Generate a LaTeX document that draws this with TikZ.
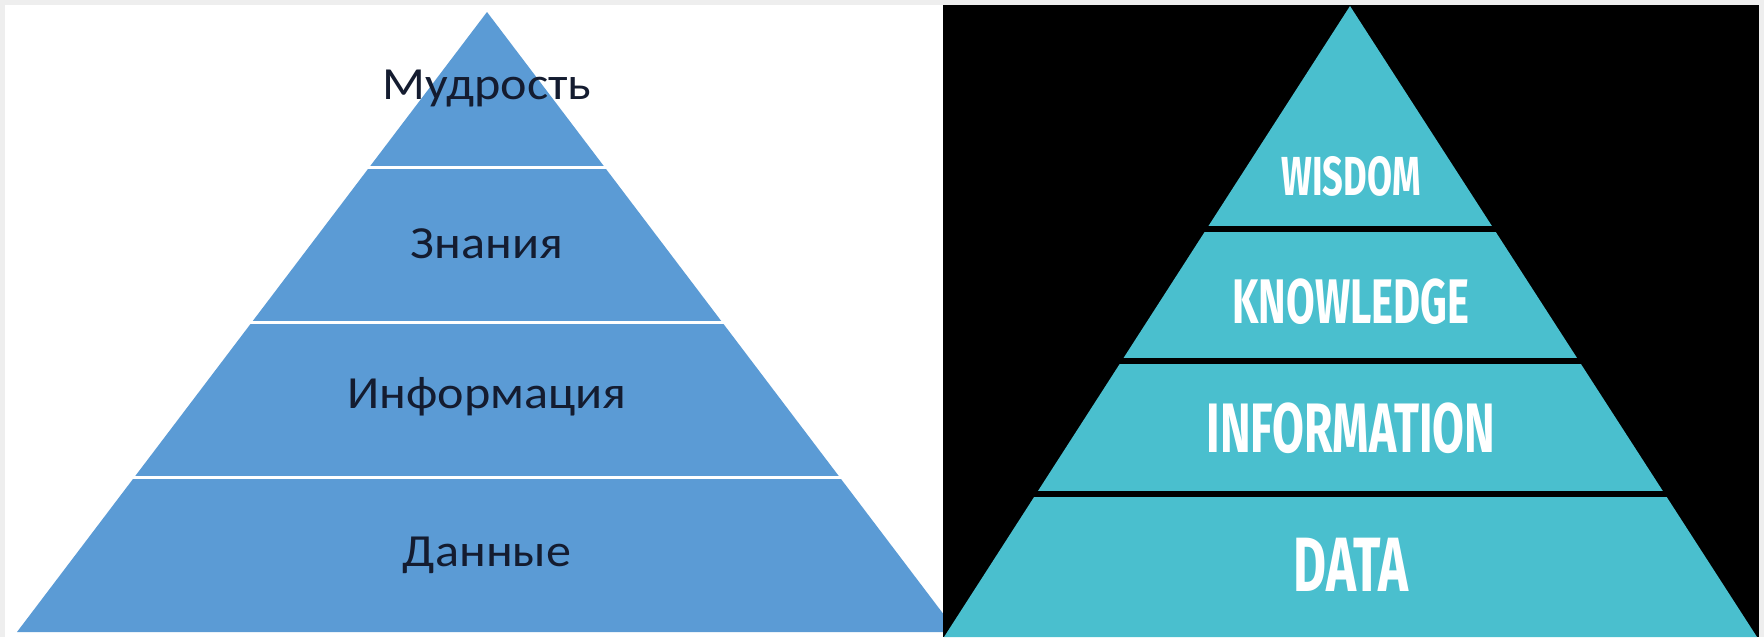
\documentclass[tikz,border=0pt]{standalone}
\usepackage{fontspec}
\setmainfont{Carlito}
\newfontfamily\ruFont[FakeStretch=1.09]{Carlito}
\newfontfamily\enFont[FakeStretch=0.66]{Fira Sans}
\usetikzlibrary{calc}
\definecolor{pagegray}{HTML}{EEEEEE}
\definecolor{ruBlue}{HTML}{5B9BD5}
\definecolor{ruInk}{HTML}{141C30}
\definecolor{enTeal}{HTML}{4ABFCE}

\begin{document}
\begin{tikzpicture}[x=0.5pt, y=-0.5pt,
    rulbl/.style={anchor=base, inner sep=0pt, text=ruInk,
      font=\ruFont\fontsize{23}{27}\selectfont},
    enlbl/.style={anchor=base, inner sep=0pt, text=white,
      font=\enFont\bfseries\fontsize{#1}{#1}\selectfont},
  ]
    % Fond
    \fill[pagegray] (0,0) rectangle (1764,637);
    \fill[white] (5,5) rectangle (943,637);

    % Pyramide de gauche
    \coordinate (ruTop) at (487,12);
    \coordinate (ruL)   at (17,632);
    \coordinate (ruR)   at (957,632);
    \fill[ruBlue] (ruTop) -- (ruL) -- (ruR) -- cycle;
    \foreach \t in {0.25,0.5,0.75}
      \draw[white, line width=1.5pt]
        ($(ruTop)!\t!(ruL)+(-4,0)$) -- ($(ruTop)!\t!(ruR)+(4,0)$);

    % Panneau noir et pyramide de droite
    \fill[black] (943,5) rectangle (1759,637);
    \coordinate (enTop) at (1350,6);
    \coordinate (enL)   at (944,637);
    \coordinate (enR)   at (1757,637);
    \fill[enTeal] (enTop) -- (enL) -- (enR) -- cycle;
    \foreach \t in {0.353,0.563,0.773}
      \draw[black, line width=3pt]
        ($(enTop)!\t!(enL)+(-6,0)$) -- ($(enTop)!\t!(enR)+(6,0)$);

    % Etiquettes
    \node[rulbl] (ruWisdom) at (487,99)  {Мудрость};
    \node[rulbl] (ruKnow)   at (487,258) {Знания};
    \node[rulbl] (ruInfo)   at (487,408) {Информация};
    \node[rulbl] (ruData)   at (487,566) {Данные};

    \node[enlbl=27.5] (enWisdom) at (1351,195) {WISDOM};
    \node[enlbl=31.5] (enKnow)   at (1351,323) {KNOWLEDGE};
    \node[enlbl=35]   (enInfo)   at (1351,452) {INFORMATION};
    \node[enlbl=38.5] (enData)   at (1351,591) {DATA};
  \end{tikzpicture}
\end{document}
